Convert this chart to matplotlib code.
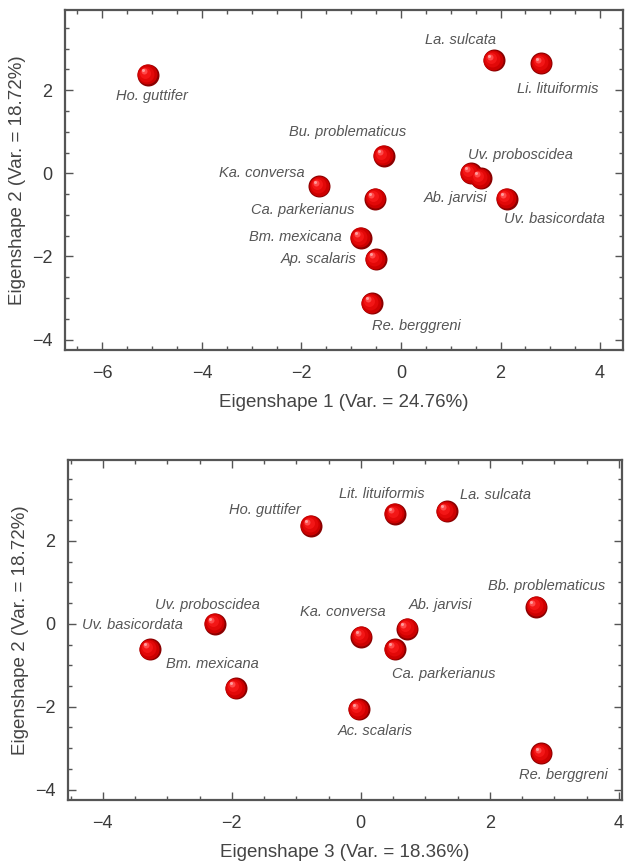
import matplotlib
matplotlib.use('Agg')
import matplotlib.pyplot as plt
from matplotlib.ticker import MultipleLocator
import matplotlib.transforms as mtransforms

plt.rcParams['font.family'] = ['Liberation Sans', 'DejaVu Sans']

# ---- data ----
labels_top = ["Ho. guttifer", "La. sulcata", "Li. lituiformis", "Bu. problematicus",
              "Uv. proboscidea", "Ab. jarvisi", "Uv. basicordata", "Ka. conversa",
              "Ca. parkerianus", "Bm. mexicana", "Ap. scalaris", "Re. berggreni"]
labels_bot = ["Ho. guttifer", "La. sulcata", "Lit. lituiformis", "Bb. problematicus",
              "Uv. proboscidea", "Ab. jarvisi", "Uv. basicordata", "Ka. conversa",
              "Ca. parkerianus", "Bm. mexicana", "Ac. scalaris", "Re. berggreni"]
es1 = [-5.10, 1.85, 2.81, -0.36, 1.39, 1.59, 2.11, -1.65, -0.53, -0.82, -0.52, -0.60]
es2 = [2.38, 2.73, 2.66, 0.43, 0.02, -0.10, -0.60, -0.30, -0.60, -1.54, -2.05, -3.11]
es3 = [-0.78, 1.32, 0.52, 2.71, -2.27, 0.71, -3.28, 0.00, 0.52, -1.95, -0.04, 2.79]

xlabel_top = "Eigenshape 1 (Var. = 24.76%)"
xlabel_bot = "Eigenshape 3 (Var. = 18.36%)"
ylabel = "Eigenshape 2 (Var. = 18.72%)"

# label offsets (pixels, text centre relative to point)
off_top = [(5, -22), (-33, 20), (17, -26), (-35, 23), (50, 18), (-25, -20), (48, -21),
           (-57, 13), (-72, -12), (-65, 0), (-56, 0), (45, -23)]
off_bot = [(-46, 15), (50, 16), (-13, 19), (11, 20), (-7, 18), (34, 23), (-17, 24),
           (-18, 24), (49, -25), (-23, 24), (17, -22), (23, -22)]

W, H = 625, 865
fig = plt.figure(figsize=(W / 100, H / 100), dpi=100)
fig.patch.set_facecolor('white')

def rect(l, t, r, b):
    return [l / W, 1 - b / H, (r - l) / W, (b - t) / H]

ax1 = fig.add_axes(rect(65, 10, 623, 350))
ax2 = fig.add_axes(rect(68, 460, 622, 800))

SPINE = '#555555'
TXT = '#3a3a3a'

def draw_balls(ax, xs, ys):
    layers = [(22, '#8a0000', (0.6, -0.6)),
              (20, '#cc0000', (0, 0)),
              (16, '#e20808', (-0.8, 0.8)),
              (11, '#f31616', (-1.8, 1.8)),
              (6, '#ff4a4a', (-3.2, 3.2)),
              (3, '#ff9c9c', (-4.2, 4.2))]
    for i, (d, c, (dx, dy)) in enumerate(layers):
        tr = mtransforms.offset_copy(ax.transData, fig=fig, x=dx, y=dy, units='dots')
        ax.scatter(xs, ys, s=(d * 0.72) ** 2, c=c, linewidths=0, transform=tr,
                   zorder=5 + i, clip_on=False)

def style(ax, xlim, ylim, xlabel):
    ax.set_xlim(*xlim)
    ax.set_ylim(*ylim)
    ax.xaxis.set_major_locator(MultipleLocator(2))
    ax.xaxis.set_minor_locator(MultipleLocator(0.5))
    ax.yaxis.set_major_locator(MultipleLocator(2))
    ax.yaxis.set_minor_locator(MultipleLocator(0.5))
    ax.tick_params(which='both', direction='in', top=True, right=True,
                   color=SPINE, width=1.0)
    ax.tick_params(which='major', length=6, labelsize=13, labelcolor=TXT)
    ax.tick_params(axis='x', which='major', pad=10.5)
    ax.tick_params(axis='y', which='major', pad=9)
    ax.tick_params(which='minor', length=3)
    for s in ax.spines.values():
        s.set_color(SPINE)
        s.set_linewidth(1.6)
    ax.set_xlabel(xlabel, fontsize=13.5, color='#444444', labelpad=9)
    ax.set_ylabel(ylabel, fontsize=13.5, color='#444444', labelpad=4)

style(ax1, (-6.75, 4.46), (-4.25, 3.93), xlabel_top)
style(ax2, (-4.54, 4.05), (-4.25, 3.95), xlabel_bot)

for ax, xs, labs, offs in [(ax1, es1, labels_top, off_top), (ax2, es3, labels_bot, off_bot)]:
    draw_balls(ax, xs, es2)
    for x, y, lab, (dx, dy) in zip(xs, es2, labs, offs):
        ax.annotate(lab, (x, y), xytext=(dx, dy), textcoords='offset pixels',
                    ha='center', va='center', fontsize=10.5, style='italic',
                    color='#555555', zorder=3)

fig.savefig('out.png', dpi=100, facecolor='white')
